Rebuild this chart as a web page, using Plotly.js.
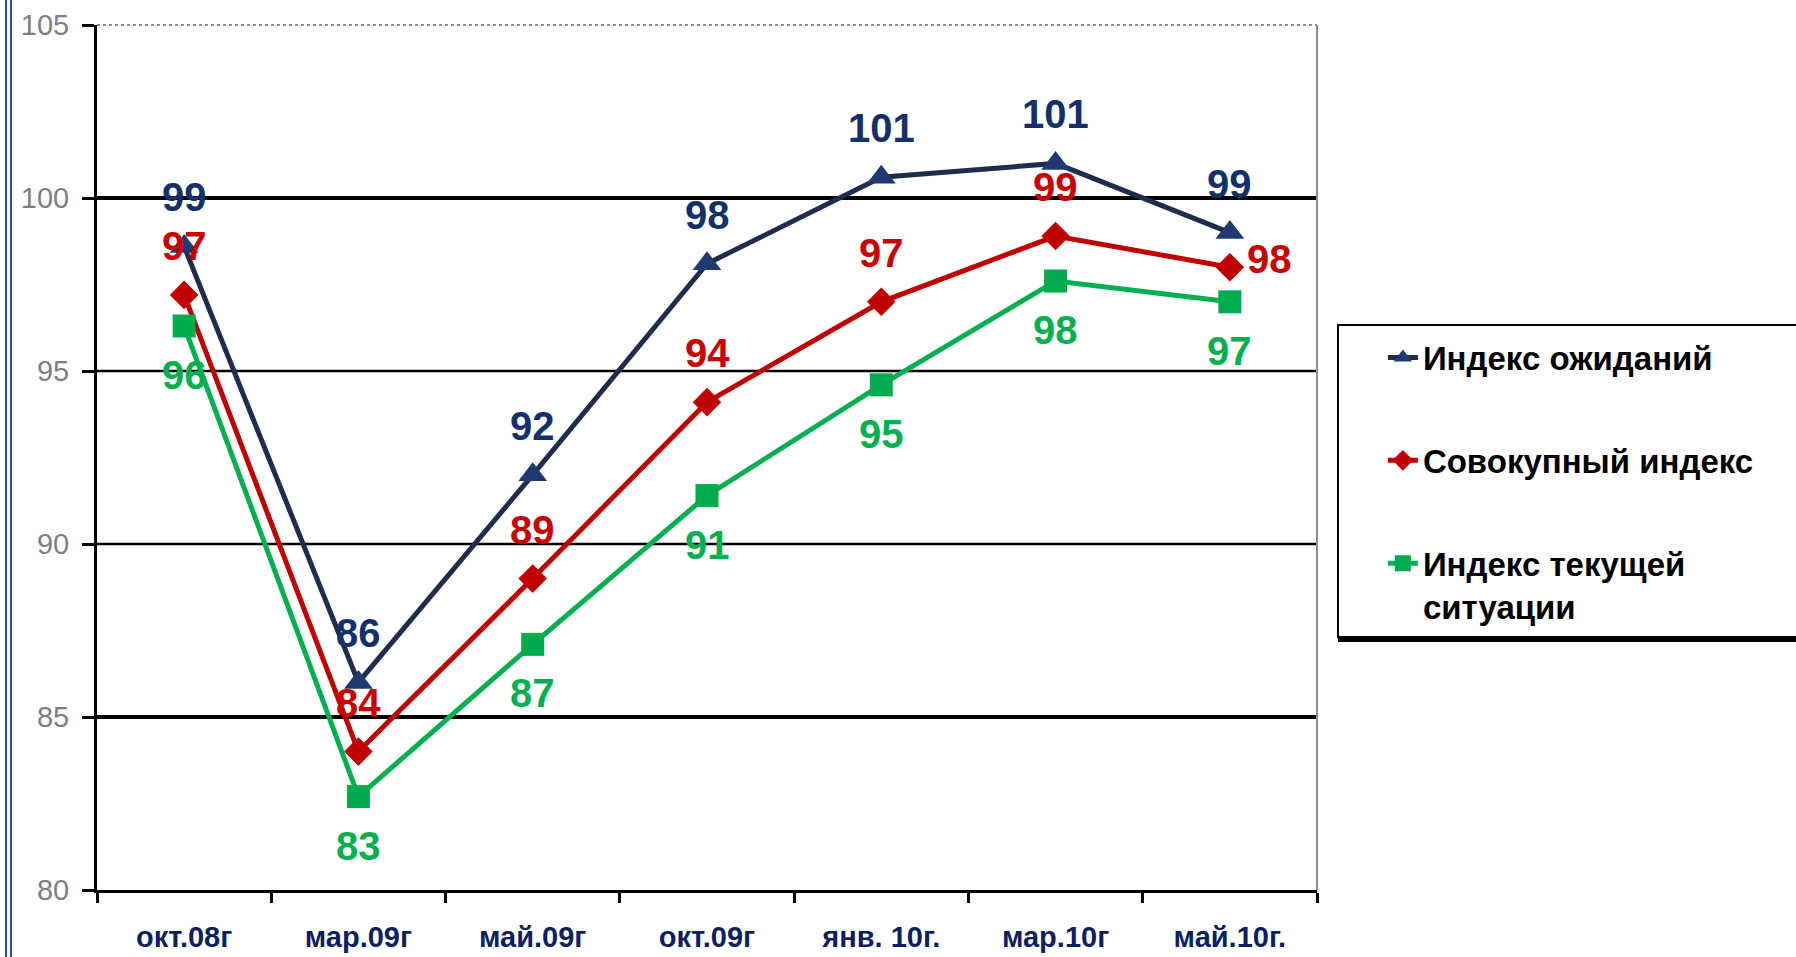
<!DOCTYPE html>
<html>
<head>
<meta charset="utf-8">
<script src="https://cdn.plot.ly/plotly-3.0.1.min.js"></script>
<style>
  html, body { margin: 0; padding: 0; background: #ffffff; }
  #chart { width: 1796px; height: 957px; }
</style>
</head>
<body>
<div id="chart"></div>
<script>
// Survey periods
const categories = ['окт.08г', 'мар.09г', 'май.09г', 'окт.09г', 'янв. 10г.', 'мар.10г', 'май.10г.'];

// Index values per period
const expectationsIndex = [98.6, 86.0, 92.0, 98.1, 100.6, 101.0, 99.0];
const compositeIndex    = [97.2, 84.0, 89.0, 94.1, 97.0, 98.9, 98.0];
const currentIndex      = [96.3, 82.7, 87.1, 91.4, 94.6, 97.6, 97.0];

// Series names
const seriesNames = ['Индекс ожиданий', 'Совокупный индекс', 'Индекс текущей<br>ситуации'];

// Y axis ticks and horizontal gridlines
const yTicks = [80, 85, 90, 95, 100, 105];
const heavyGrid = [85, 100];
const lightGrid = [90, 95];

const FONT = 'Arial, "Liberation Sans", sans-serif';

const series = [
  { values: expectationsIndex, name: seriesNames[0], line: '#1f2d4d', marker: '#1f3a73', label: '#14306a',
    symbol: 'triangle-up', size: 25, shift: 49 },
  { values: compositeIndex, name: seriesNames[1], line: '#c00000', marker: '#c00000', label: '#c80000',
    symbol: 'diamond', size: 22, shift: 49 },
  { values: currentIndex, name: seriesNames[2], line: '#00b050', marker: '#00ab4e', label: '#00b050',
    symbol: 'square', size: 23, shift: -49 }
];

const traces = series.map((s, k) => ({
  type: 'scatter',
  mode: 'lines+markers',
  x: categories,
  y: s.values,
  name: s.name,
  legendgroup: 'g' + k,
  line: { color: s.line, width: 5 },
  marker: { color: s.marker, symbol: s.symbol, size: s.size, line: { width: 0 } },
  hoverinfo: 'x+y+name'
}));

// Value labels, drawn from the same arrays as the lines
const annotations = [];
series.forEach((s, k) => {
  s.values.forEach((v, i) => {
    const last = (k === 1 && i === s.values.length - 1);
    annotations.push({
      x: categories[i], y: v, xref: 'x', yref: 'y',
      text: String(Math.round(v)),
      showarrow: false,
      xshift: last ? 40 : 0,
      yshift: last ? 8 : s.shift,
      font: { family: FONT, size: 40, color: s.label, weight: 'bold' }
    });
  });
});

// Horizontal gridlines
const gridShape = (v, w) => ({
  type: 'line', xref: 'paper', yref: 'y', x0: 0, x1: 1, y0: v, y1: v,
  layer: 'below', line: { color: '#000000', width: w }
});

// Frame pieces: plot border, legend box, slide edge
const shapes = [
  ...heavyGrid.map(v => gridShape(v, 4)),
  ...lightGrid.map(v => gridShape(v, 2.5)),
  { type: 'line', xref: 'paper', yref: 'paper', x0: 0, x1: 1, y0: 1, y1: 1,
    line: { color: '#8c8c8c', width: 2, dash: 'dot' } },
  { type: 'line', xref: 'paper', yref: 'paper', x0: 1, x1: 1, y0: 0, y1: 1,
    line: { color: '#8c8c8c', width: 2 } },
  { type: 'rect', xref: 'paper', yref: 'paper', x0: 1.0172, x1: 1.3959, y0: 0.2925, y1: 0.6532,
    line: { color: '#000000', width: 2 }, fillcolor: 'rgba(0,0,0,0)' },
  { type: 'line', xref: 'paper', yref: 'paper', x0: 1.0172, x1: 1.3959, y0: 0.2890, y1: 0.2890,
    line: { color: '#000000', width: 4 } },
  { type: 'line', xref: 'paper', yref: 'paper', x0: -0.0746, x1: -0.0746, y0: -0.08, y1: 1.03,
    line: { color: '#2a4aa8', width: 2 } },
  { type: 'line', xref: 'paper', yref: 'paper', x0: -0.0705, x1: -0.0705, y0: -0.08, y1: 1.03,
    line: { color: '#2a4aa8', width: 2 } }
];

const layout = {
  width: 1796,
  height: 957,
  margin: { l: 97, r: 479, t: 25, b: 67 },
  paper_bgcolor: '#ffffff',
  plot_bgcolor: '#ffffff',
  showlegend: true,
  font: { family: FONT },
  xaxis: {
    type: 'category',
    range: [-0.5, 6.5],
    tickson: 'boundaries',
    ticks: 'outside', ticklen: 10, tickwidth: 3, tickcolor: '#000000',
    showline: true, linecolor: '#000000', linewidth: 3,
    showgrid: false, zeroline: false,
    ticklabelstandoff: 19,
    tickfont: { family: FONT, size: 29, color: '#0c1f5e', weight: 'bold' },
    fixedrange: true
  },
  yaxis: {
    range: [80, 105],
    tickvals: yTicks,
    ticks: 'outside', ticklen: 12, tickwidth: 3, tickcolor: '#000000',
    showline: true, linecolor: '#000000', linewidth: 3,
    showgrid: false, zeroline: false,
    ticklabelstandoff: 7,
    tickfont: { family: FONT, size: 29, color: '#7f7f7f' },
    fixedrange: true
  },
  legend: {
    x: 1.054, xanchor: 'left',
    y: 0.648, yanchor: 'top',
    bgcolor: 'rgba(0,0,0,0)',
    borderwidth: 0,
    traceorder: 'grouped',
    tracegroupgap: 57,
    valign: 'top',
    font: { family: FONT, size: 33, color: '#000000', weight: 'bold' }
  },
  shapes: shapes,
  annotations: annotations
};

Plotly.newPlot('chart', traces, layout, { displayModeBar: false, staticPlot: true });
</script>
</body>
</html>
